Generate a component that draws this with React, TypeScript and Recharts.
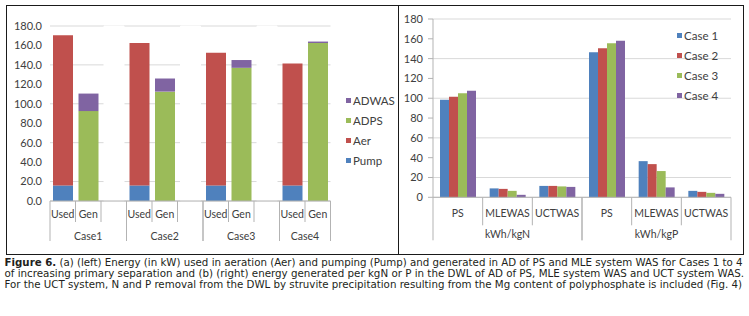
import { BarChart, Bar, XAxis, YAxis, CartesianGrid } from 'recharts'

// ---- (a) left: energy used / generated, kW ----
const caseNames = ['Case1', 'Case2', 'Case3', 'Case4']
const usedLabel = 'Used'
const genLabel = 'Gen'
const pumpUsed = [16, 16, 16, 16]
const aerUsed = [154.5, 146.5, 136.5, 125.5]
const adpsGen = [92.5, 112.5, 137, 162.5]
const adwasGen = [18, 13.5, 8, 1.5]
const leftTicks = [0, 20, 40, 60, 80, 100, 120, 140, 160, 180]

// ---- (b) right: energy per kgN / kgP ----
const ratioCats = ['PS', 'MLEWAS', 'UCTWAS']
const unitGroups = ['kWh/kgN', 'kWh/kgP']
const case1 = [98.5, 9, 11.5, 146.5, 36.5, 6.5]
const case2 = [101.5, 8.5, 11.5, 150.5, 33.5, 5.5]
const case3 = [105, 6.5, 11, 155.5, 26.5, 4.5]
const case4 = [107.5, 2.5, 10.5, 158, 10, 3.5]
const caseSeries = ['Case 1', 'Case 2', 'Case 3', 'Case 4']
const rightTicks = [0, 20, 40, 60, 80, 100, 120, 140, 160, 180]

const BLUE = '#4F81BD'
const RED = '#C0504D'
const GREEN = '#9BBB59'
const PURPLE = '#8064A2'
const GRID = '#d9d9d9'
const AXIS = '#b3b3b3'
const TEXT = '#404040'
const FONT = 'Lato, sans-serif'

const leftSeries = [
  { key: 'ADWAS', color: PURPLE },
  { key: 'ADPS', color: GREEN },
  { key: 'Aer', color: RED },
  { key: 'Pump', color: BLUE },
]

type Row = {
  key: string
  label: string
  group: string
  size: number
  pos: number
  [k: string]: string | number
}

const leftRows: Row[] = []
caseNames.forEach((name, c) => {
  const size = c < caseNames.length - 1 ? 3 : 2
  leftRows.push({ key: `u${c}`, label: usedLabel, group: name, size, pos: 0, Pump: pumpUsed[c], Aer: aerUsed[c], ADPS: 0, ADWAS: 0, mask: 0 })
  leftRows.push({ key: `g${c}`, label: genLabel, group: name, size, pos: 1, Pump: 0, Aer: 0, ADPS: adpsGen[c], ADWAS: adwasGen[c], mask: 0 })
  // blank spacer column, painted white so the gridlines look broken
  if (size === 3) leftRows.push({ key: `b${c}`, label: '', group: name, size, pos: 2, Pump: 0, Aer: 0, ADPS: 0, ADWAS: 0, mask: 180 })
})

const rightRows: Row[] = []
unitGroups.forEach((unit, g) => {
  ratioCats.forEach((cat, i) => {
    const j = g * ratioCats.length + i
    rightRows.push({
      key: `${unit}-${cat}`, label: cat, group: unit, size: ratioCats.length, pos: i,
      'Case 1': case1[j], 'Case 2': case2[j], 'Case 3': case3[j], 'Case 4': case4[j],
    })
  })
})

// plot geometry
const L = { w: 398, h: 256, top: 26, left: 50, right: 330.5, bottom: 201 }
const R = { w: 749, h: 256, top: 19, left: 433, right: 731, bottom: 197.3 }
const LEFT_BW = (L.right - L.left) / leftRows.length
const RIGHT_BW = (R.right - R.left) / rightRows.length

interface TickOpts { label: number; group: number; short: number; long: number; fs: number }

function GroupedTick(props: any) {
  const { x, y, payload, rows, bw, o } = props as { x: number; y: number; payload: any; rows: Row[]; bw: number; o: TickOpts }
  const idx = props.index ?? payload.index
  const r = rows[idx]
  if (!r) return null
  const last = r.pos === r.size - 1
  return (
    <g>
      {r.pos === 0 && (
        <line x1={x - bw / 2} x2={x - bw / 2} y1={y} y2={y + o.long} stroke={AXIS} />
      )}
      <line x1={x + bw / 2} x2={x + bw / 2} y1={y} y2={y + (last ? o.long : o.short)} stroke={AXIS} />
      {r.label && (
        <text x={x} y={y + o.label} textAnchor="middle" dominantBaseline="central" fill={TEXT} fontSize={o.fs} fontFamily={FONT}>
          {r.label}
        </text>
      )}
      {r.pos === 0 && (
        <text x={x + ((r.size - 1) / 2) * bw} y={y + o.group} textAnchor="middle" dominantBaseline="central" fill={TEXT} fontSize={o.fs} fontFamily={FONT}>
          {r.group}
        </text>
      )}
    </g>
  )
}

const captionLines = [
  ' (a) (left) Energy (in kW) used in aeration (Aer) and pumping (Pump) and generated in AD of PS and MLE system WAS for Cases 1 to 4',
  'of increasing primary separation and (b) (right) energy generated per kgN or P in the DWL of AD of PS, MLE system WAS and UCT system WAS.',
  'For the UCT system, N and P removal from the DWL by struvite precipitation resulting from the Mg content of polyphosphate is included (Fig. 4)',
]

export default function App() {
  return (
    <div style={{ position: 'absolute', left: 0, top: 0, width: 749, height: 316, background: '#fff', fontFamily: FONT, overflow: 'hidden' }}>
      {/* frame */}
      <div style={{ position: 'absolute', left: 6, top: 5, width: 736, height: 248, border: '1.3px solid #1a1a1a' }} />
      <div style={{ position: 'absolute', left: 398, top: 5, width: 1.3, height: 250, background: '#1a1a1a' }} />

      <div style={{ position: 'absolute', left: 0, top: 0 }}>
        <BarChart
          width={L.w}
          height={L.h}
          data={leftRows}
          margin={{ top: L.top, left: L.left - 40, right: L.w - L.right, bottom: L.h - L.bottom - 45 }}
          barSize={20}
        >
          <CartesianGrid vertical={false} stroke={GRID} />
          <XAxis
            dataKey="key"
            interval={0}
            height={45}
            tickSize={0}
            tickMargin={0}
            tickLine={false}
            axisLine={{ stroke: AXIS }}
            tick={(p: any) => <GroupedTick {...p} rows={leftRows} bw={LEFT_BW} o={{ label: 13, group: 35, short: 21, long: 40, fs: 10.5 }} />}
          />
          <YAxis
            width={40}
            domain={[0, 180]}
            ticks={leftTicks}
            axisLine={false}
            tickLine={false}
            tick={{ fill: TEXT, fontSize: 11, fontFamily: FONT }}
            tickFormatter={(v: number) => v.toFixed(1)}
          />
          <Bar dataKey="Pump" stackId="s" fill={BLUE} isAnimationActive={false} />
          <Bar dataKey="Aer" stackId="s" fill={RED} isAnimationActive={false} />
          <Bar dataKey="ADPS" stackId="s" fill={GREEN} isAnimationActive={false} />
          <Bar dataKey="ADWAS" stackId="s" fill={PURPLE} isAnimationActive={false} />
          <Bar dataKey="mask" stackId="s" fill="#fff" stroke="#fff" isAnimationActive={false} />
        </BarChart>
      </div>

      <div style={{ position: 'absolute', left: 0, top: 0 }}>
        <BarChart
          width={R.w}
          height={R.h}
          data={rightRows}
          margin={{ top: R.top, left: R.left - 40, right: R.w - R.right, bottom: R.h - R.bottom - 45 }}
          barSize={9}
          barGap={0}
        >
          <CartesianGrid vertical={false} stroke={GRID} />
          <XAxis
            dataKey="key"
            interval={0}
            height={45}
            tickSize={0}
            tickMargin={0}
            tickLine={false}
            axisLine={{ stroke: AXIS }}
            tick={(p: any) => <GroupedTick {...p} rows={rightRows} bw={RIGHT_BW} o={{ label: 15.5, group: 37, short: 28, long: 43, fs: 10.5 }} />}
          />
          <YAxis
            width={40}
            domain={[0, 180]}
            ticks={rightTicks}
            axisLine={{ stroke: AXIS }}
            tickLine={{ stroke: AXIS }}
            tickSize={5}
            tickMargin={5}
            tick={{ fill: TEXT, fontSize: 11, fontFamily: FONT }}
          />
          <Bar dataKey="Case 1" fill={BLUE} isAnimationActive={false} />
          <Bar dataKey="Case 2" fill={RED} isAnimationActive={false} />
          <Bar dataKey="Case 3" fill={GREEN} isAnimationActive={false} />
          <Bar dataKey="Case 4" fill={PURPLE} isAnimationActive={false} />
        </BarChart>
      </div>

      {/* legends */}
      {leftSeries.map((s, i) => (
        <div key={s.key} style={{ position: 'absolute', left: 346, top: 93 + i * 20, height: 14, display: 'flex', alignItems: 'center', fontSize: 11.5, color: TEXT }}>
          <span style={{ width: 5, height: 5, background: s.color, marginRight: 2 }} />
          {s.key}
        </div>
      ))}
      {caseSeries.map((name, i) => (
        <div key={name} style={{ position: 'absolute', left: 677, top: 28 + i * 20, height: 14, display: 'flex', alignItems: 'center', fontSize: 11.5, color: TEXT }}>
          <span style={{ width: 5, height: 5, background: [BLUE, RED, GREEN, PURPLE][i], marginRight: 2 }} />
          {name}
        </div>
      ))}

      {/* caption */}
      <svg width={749} height={60} style={{ position: 'absolute', left: 0, top: 256 }}>
        <g fontFamily='"DejaVu Sans Condensed", "Liberation Sans Narrow", Roboto, sans-serif' fontSize={10.5} fill="#231f20">
          <text x={4.5} y={10} textLength={738} lengthAdjust="spacingAndGlyphs">
            <tspan fontWeight="bold">Figure 6.</tspan>
            {captionLines[0]}
          </text>
          <text x={4.5} y={21} textLength={739.5} lengthAdjust="spacingAndGlyphs">{captionLines[1]}</text>
          <text x={4.5} y={32} textLength={737.5} lengthAdjust="spacingAndGlyphs">{captionLines[2]}</text>
        </g>
      </svg>
    </div>
  )
}
